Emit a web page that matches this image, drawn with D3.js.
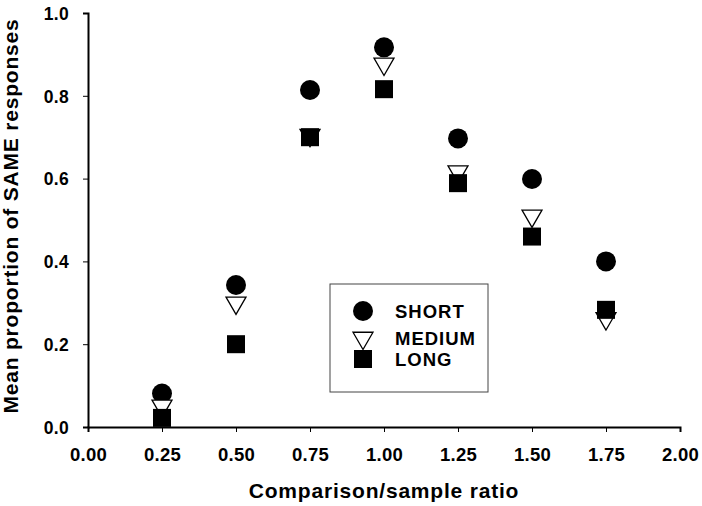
<!DOCTYPE html>
<html>
<head>
<meta charset="utf-8">
<script src="https://cdn.jsdelivr.net/npm/d3@7"></script>
<style>
  body { margin: 0; background: #fff; }
  text { font-family: "Liberation Sans", Arial, sans-serif; font-weight: bold; fill: #000; }
</style>
</head>
<body>
<div id="chart"></div>
<script>
// Data
const ratios = [0.25, 0.50, 0.75, 1.00, 1.25, 1.50, 1.75];
const shortVals = [0.081, 0.343, 0.814, 0.917, 0.697, 0.599, 0.400];
const mediumVals = [0.051, 0.300, 0.705, 0.877, 0.617, 0.510, 0.262];
const longVals = [0.022, 0.200, 0.700, 0.816, 0.589, 0.460, 0.283];
const xTicks = [0, 0.25, 0.5, 0.75, 1, 1.25, 1.5, 1.75, 2];
const yTicks = [0, 0.2, 0.4, 0.6, 0.8, 1.0];
const seriesNames = ["SHORT", "MEDIUM", "LONG"];

const width = 702, height = 506;
const svg = d3.select("#chart").append("svg")
  .attr("width", width)
  .attr("height", height);

const x = d3.scaleLinear().domain([0, 2]).range([88, 680]);
const y = d3.scaleLinear().domain([0, 1]).range([427, 13]);

// axes
const xAxis = svg.append("g")
  .attr("transform", `translate(0,${y(0)})`)
  .call(d3.axisBottom(x).tickValues(xTicks).tickSize(5).tickPadding(16).tickFormat(d3.format(".2f")));
const yAxis = svg.append("g")
  .attr("transform", `translate(${x(0)},0)`)
  .call(d3.axisLeft(y).tickValues(yTicks).tickSize(5).tickPadding(14).tickFormat(d3.format(".1f")));

[xAxis, yAxis].forEach(a => {
  a.select(".domain").attr("stroke", "#000").attr("stroke-width", 2);
  a.selectAll(".tick line").attr("stroke", "#000").attr("stroke-width", 1);
  a.selectAll(".tick text")
    .style("font-family", "'Liberation Sans', Arial, sans-serif")
    .style("font-weight", "bold")
    .style("font-size", "18.5px")
    .style("letter-spacing", "0.3px")
    .attr("fill", "#000");
});
yAxis.selectAll(".tick text").style("font-size", "17.5px").attr("dy", "0.36em");

// axis titles
svg.append("text")
  .attr("x", 384)
  .attr("y", 498)
  .attr("text-anchor", "middle")
  .style("font-size", "21px")
  .style("letter-spacing", "0.8px")
  .text("Comparison/sample ratio");

svg.append("text")
  .attr("transform", "rotate(-90)")
  .attr("x", -216)
  .attr("y", 18)
  .attr("text-anchor", "middle")
  .style("font-size", "21px")
  .style("letter-spacing", "0.8px")
  .text("Mean proportion of SAME responses");

// markers
const triangle = d3.symbol().type(d3.symbolTriangle).size(173);

svg.append("g").selectAll("circle")
  .data(ratios)
  .join("circle")
  .attr("cx", d => x(d))
  .attr("cy", (d, i) => y(shortVals[i]))
  .attr("r", 10)
  .attr("fill", "#000");

svg.append("g").selectAll("path")
  .data(ratios)
  .join("path")
  .attr("d", triangle)
  .attr("transform", (d, i) => `translate(${x(d)},${y(mediumVals[i])}) rotate(180)`)
  .attr("fill", "#fff")
  .attr("stroke", "#000")
  .attr("stroke-width", 1.3);

svg.append("g").selectAll("rect")
  .data(ratios)
  .join("rect")
  .attr("x", d => x(d) - 9)
  .attr("y", (d, i) => y(longVals[i]) - 9)
  .attr("width", 18)
  .attr("height", 18)
  .attr("fill", "#000");

// legend
const legend = svg.append("g");
legend.append("rect")
  .attr("x", 330).attr("y", 284)
  .attr("width", 158).attr("height", 108)
  .attr("fill", "#fff")
  .attr("stroke", "#444")
  .attr("stroke-width", 1);

const legendY = [311, 338, 359];
legend.append("circle").attr("cx", 363).attr("cy", legendY[0]).attr("r", 10).attr("fill", "#000");
legend.append("path").attr("d", triangle)
  .attr("transform", `translate(363,${legendY[1]}) rotate(180)`)
  .attr("fill", "#fff").attr("stroke", "#000").attr("stroke-width", 1.3);
legend.append("rect").attr("x", 354).attr("y", legendY[2] - 9).attr("width", 18).attr("height", 18).attr("fill", "#000");

legend.selectAll("text.lab")
  .data(seriesNames)
  .join("text")
  .attr("class", "lab")
  .attr("x", 395)
  .attr("y", (d, i) => legendY[i])
  .attr("dy", "0.36em")
  .style("font-size", "18.5px")
  .style("letter-spacing", "1px")
  .text(d => d);
</script>
</body>
</html>
